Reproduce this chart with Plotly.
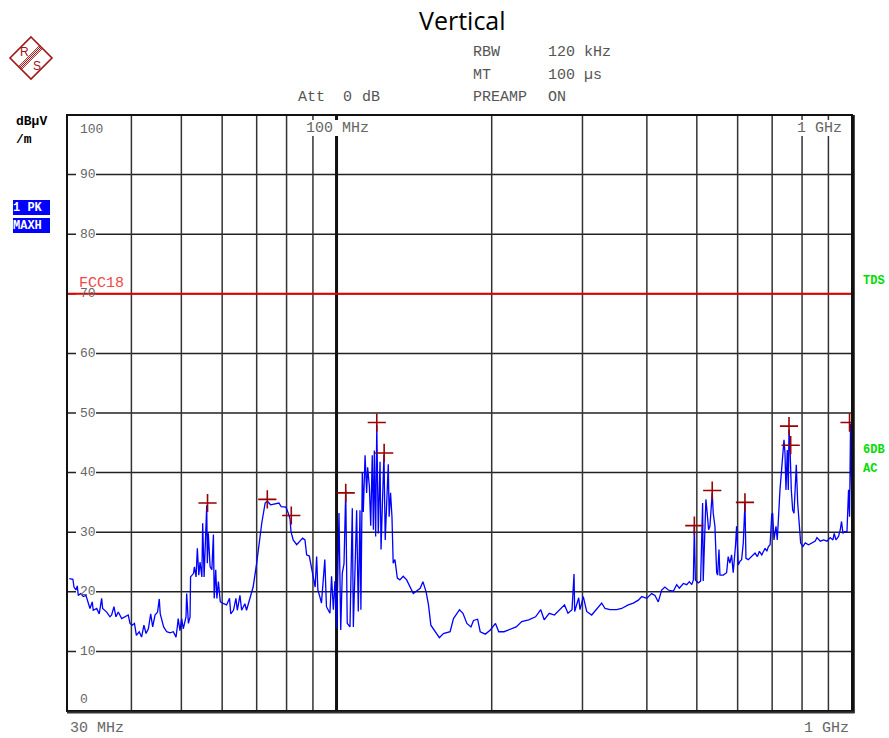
import math
import plotly.graph_objects as go

# ---------------- data ----------------
freq_mhz = [30.31, 30.8, 30.95, 31.23, 31.41, 31.55, 31.89, 32.26, 32.65, 32.99, 33.24, 33.58, 33.73,
            34.25, 34.65, 35.02, 35.18, 35.82, 36.35, 36.62, 37.0, 37.33, 37.72, 38.3, 38.87, 39.44,
            39.75, 40.13, 40.55, 40.9, 41.42, 41.86, 42.3, 42.7, 43.15, 43.6, 43.99, 44.45, 44.96,
            45.3, 45.5, 46.2, 46.84, 47.53, 48.24, 48.82, 49.1, 49.3, 49.69, 50.07, 50.43, 51.05,
            51.2, 51.6, 51.98, 52.1, 52.8, 53.0, 53.4, 53.7, 54.05, 54.35, 54.8, 55.0, 55.35, 56.0,
            56.15, 56.4, 56.85, 57.3, 57.7, 57.9, 58.3, 58.6, 59.0, 59.5, 60.4, 61.2, 62.0, 62.35,
            63.1, 63.8, 64.2, 64.96, 65.45, 66.4, 66.9, 67.9, 68.9, 70.0, 70.8, 71.6, 72.7, 73.4,
            74.5, 76.0, 77.3, 78.1, 79.8, 80.6, 81.25, 81.6, 82.4, 83.7, 84.7, 85.95, 86.85, 87.5,
            88.55, 89.5, 90.1, 90.9, 91.5, 92.0, 92.8, 93.5, 94.9, 95.6, 97.1, 97.8, 98.6, 99.3,
            100.1, 101.1, 101.9, 102.6, 103.4, 104.2, 104.9, 106.2, 107.3, 107.8, 108.6, 109.4,
            110.2, 111.05, 111.5, 112.2, 112.7, 113.6, 114.4, 114.9, 115.8, 116.5, 117.3, 117.9,
            118.4, 119.1, 119.7, 120.5, 121.45, 122.0, 122.7, 123.6, 124.3, 125.1, 126.0, 126.5,
            127.3, 128.1, 128.8, 129.8, 131.2, 132.7, 134.7, 136.8, 140.9, 145.3, 147.1, 149.2,
            150.8, 152.4, 156.5, 158.3, 161.2, 166.1, 168.6, 173.2, 175.9, 179.0, 182.3, 184.4,
            187.8, 190.0, 194.4, 198.8, 203.4, 206.4, 211.3, 216.2, 223.1, 228.7, 235.9, 243.3,
            249.0, 252.8, 258.6, 264.7, 270.8, 276.9, 281.2, 286.3, 288.9, 289.7, 295.0, 296.7,
            301.1, 305.7, 312.6, 319.7, 326.9, 331.8, 339.2, 349.5, 357.4, 368.1, 376.5, 385.1,
            391.0, 399.6, 408.6, 414.7, 420.9, 427.3, 433.6, 440.1, 450.1, 457.0, 462.4, 470.8,
            478.0, 483.6, 488.8, 492.3, 494.5, 496.7, 503.1, 508.5, 510.8, 513.1, 514.5, 516.8,
            520.7, 523.7, 527.0, 530.1, 533.2, 535.6, 538.0, 542.1, 546.3, 548.7, 552.0, 554.4,
            562.6, 571.1, 575.2, 579.6, 584.0, 588.2, 594.5, 597.2, 601.6, 606.2, 610.8, 615.3,
            619.9, 622.7, 629.2, 638.9, 648.5, 655.3, 661.2, 668.3, 678.3, 683.5, 688.4, 693.6,
            698.8, 701.6, 705.7, 712.1, 716.2, 724.9, 730.4, 733.7, 738.0, 741.3, 744.6, 749.0,
            752.3, 754.7, 758.1, 762.5, 767.3, 771.8, 775.2, 779.7, 784.6, 790.2, 795.1, 803.2,
            811.5, 823.6, 836.2, 848.7, 855.1, 867.9, 880.9, 894.2, 907.3, 918.3, 923.7, 930.7,
            941.6, 948.8, 954.4, 960.4, 967.3, 977.8, 984.7, 989.1, 993.6, 996.6, 1000.0]

level_dbuv = [22.2, 22.1, 20.8, 20.3, 21.0, 19.4, 19.7, 19.2, 19.4, 18.3, 17.2, 18.3, 16.9,
              17.2, 16.3, 18.9, 17.2, 16.6, 15.8, 16.1, 17.5, 15.8, 16.6, 15.5, 15.8, 16.1,
              14.7, 14.4, 14.7, 12.7, 13.3, 12.4, 14.4, 13.0, 13.8, 16.3, 14.1, 16.1, 16.6,
              18.8, 16.3, 14.1, 13.3, 13.1, 13.3, 12.4, 14.1, 15.5, 13.5, 15.5, 13.8, 15.8,
              19.7, 14.7, 15.8, 22.5, 23.1, 24.2, 22.5, 27.3, 22.8, 25.0, 22.5, 31.5, 22.5, 34.5,
              24.8, 29.8, 24.2, 23.7, 29.6, 18.9, 23.7, 18.9, 21.7, 18.3, 18.0, 17.8, 18.9, 16.3,
              16.9, 18.9, 16.9, 19.4, 16.9, 18.0, 16.9, 18.9, 20.8, 24.8, 28.1, 31.5, 34.9, 35.2,
              34.6, 34.8, 34.9, 34.3, 34.2, 33.2, 32.2, 30.1, 28.7, 27.9, 28.4, 29.0, 28.7, 26.2,
              26.0, 23.9, 22.0, 20.8, 25.9, 20.3, 19.2, 18.1, 25.4, 17.5, 16.4, 22.6, 17.0, 21.8,
              13.9, 33.2, 13.6, 23.1, 24.7, 37.0, 14.7, 14.1, 34.0, 14.1, 23.6, 33.7,
              16.7, 33.7, 17.0, 40.1, 33.4, 42.9, 36.6, 40.9, 37.7, 31.1, 42.9, 30.4,
              43.7, 29.3, 48.0, 29.8, 41.8, 27.1, 34.3, 43.0, 28.7, 35.4, 41.4, 32.6,
              36.6, 32.6, 24.8, 25.4, 22.3, 22.0, 22.6, 22.0, 19.7, 20.6, 21.7, 20.0,
              17.8, 14.4, 13.0, 12.3, 13.0, 13.3, 15.5, 17.0, 16.4, 14.7, 14.1, 15.2,
              15.4, 13.3, 12.9, 13.6, 14.7, 13.3, 13.3, 13.6, 14.1, 15.0, 15.3, 15.8,
              17.0, 15.3, 16.4, 16.1, 17.0, 17.8, 16.4, 17.0, 23.0, 16.7, 19.0, 17.0,
              19.2, 16.7, 16.1, 17.2, 18.1, 17.2, 17.0, 17.0, 17.2, 17.8, 18.1, 18.6,
              19.2, 18.9, 19.7, 19.4, 18.3, 20.3, 20.8, 20.3, 20.1, 21.2, 20.6, 21.4,
              21.2, 21.7, 21.2, 22.0, 31.0, 22.0, 21.5, 21.8, 28.7, 34.9, 21.8, 28.7,
              35.5, 33.2, 30.4, 31.0, 34.9, 36.6, 33.2, 31.0, 23.2, 22.8, 27.1, 22.8,
              22.8, 23.2, 25.9, 24.8, 26.2, 23.2, 27.9, 31.0, 24.5, 25.1, 25.4, 28.2,
              34.9, 25.6, 25.4, 25.9, 26.5, 25.9, 26.8, 26.2, 27.3, 26.8, 27.6, 27.9,
              33.0, 33.2, 28.7, 31.0, 28.7, 37.1, 40.2, 42.7, 45.5, 43.2, 37.1, 43.8,
              37.1, 47.2, 44.3, 37.1, 33.7, 33.2, 38.2, 41.3, 34.9, 30.4, 28.2, 27.6,
              28.2, 27.9, 28.2, 28.5, 29.1, 28.5, 28.7, 28.5, 29.1, 28.7, 29.8, 28.7,
              29.3, 30.4, 31.8, 29.8, 30.1, 30.1, 37.1, 32.6, 48.2, 39.3, 32.6]

peak_freq_mhz = [56.2, 73.4, 81.7, 104.2, 119.7, 123.7, 494.5, 535.6, 619.9, 754.7, 760.4, 989.1]
peak_level_dbuv = [34.9, 35.5, 32.8, 36.6, 48.4, 43.3, 31.1, 37.0, 35.0, 47.8, 44.6, 48.4]

limit_freq_mhz = [30, 1000]
limit_level_dbuv = [70, 70]
limit_name = "FCC18"

grid_freq_mhz = [40, 50, 60, 70, 80, 90, 100, 200, 300, 400, 500, 600, 700, 800, 900]
grid_level = [10, 20, 30, 40, 50, 60, 70, 80, 90]
y_tick_labels = ["10", "20", "30", "40", "50", "60", "70", "80", "90"]

# ---------------- layout helpers (pixel -> paper) ----------------
W, H = 889, 738
L, R, T, B = 67, 852, 115, 711


def px(x):
    return (x - L) / (R - L)


def py(y):
    return (B - y) / (B - T)


MONO = "Liberation Mono"
GRAY = "#666666"
HDR = "#555555"

fig = go.Figure()
fig.add_trace(go.Scatter(x=limit_freq_mhz, y=limit_level_dbuv, mode="lines",
                         line=dict(color="#E00000", width=2), hoverinfo="skip",
                         showlegend=False))
fig.add_trace(go.Scatter(x=freq_mhz, y=level_dbuv, mode="lines",
                         line=dict(color="#0000FF", width=1.3), showlegend=False))
fig.add_trace(go.Scatter(x=peak_freq_mhz, y=peak_level_dbuv, mode="markers",
                         marker=dict(symbol="cross-thin", size=13, color="#990000",
                                     line=dict(color="#990000", width=1.6)),
                         showlegend=False))

shapes = []
# horizontal grid
for lv in grid_level:
    shapes.append(dict(type="line", xref="paper", yref="y", x0=0, x1=1, y0=lv, y1=lv,
                       line=dict(color="#222222", width=1.5), layer="below"))
# vertical grid
for f in grid_freq_mhz:
    shapes.append(dict(type="line", xref="x", yref="paper", x0=f, x1=f, y0=0, y1=1,
                       line=dict(color="#111111" if f == 100 else "#333333",
                                 width=3 if f == 100 else 1.5), layer="below"))
# white backgrounds behind in-plot labels
for lv in grid_level:
    shapes.append(dict(type="rect", xref="paper", yref="y", x0=px(76), x1=px(96),
                       y0=lv - 1.2, y1=lv + 1.2, fillcolor="white", line=dict(width=0),
                       layer="below"))
shapes.append(dict(type="rect", xref="paper", yref="paper", x0=px(303), x1=px(375),
                   y0=py(136), y1=py(120), fillcolor="white", line=dict(width=0), layer="below"))
shapes.append(dict(type="rect", xref="paper", yref="paper", x0=px(794), x1=px(849),
                   y0=py(136), y1=py(120), fillcolor="white", line=dict(width=0), layer="below"))
# frame
shapes.append(dict(type="rect", xref="paper", yref="paper", x0=0, x1=1, y0=0, y1=1,
                   line=dict(color="#111111", width=2), layer="above"))
shapes.append(dict(type="line", xref="paper", yref="paper", x0=px(853.5), x1=px(853.5),
                   y0=py(713), y1=py(115), line=dict(color="#111111", width=2.5), layer="above"))
shapes.append(dict(type="line", xref="paper", yref="paper", x0=px(67), x1=px(854.5),
                   y0=py(712.5), y1=py(712.5), line=dict(color="#333333", width=2), layer="above"))

# R&S logo
logo_c = (31, 58)
hs = 21
pts = [(logo_c[0], logo_c[1] - hs), (logo_c[0] + hs, logo_c[1]),
       (logo_c[0], logo_c[1] + hs), (logo_c[0] - hs, logo_c[1])]
path = "M " + " L ".join(f"{px(a):.5f},{py(b):.5f}" for a, b in pts) + " Z"
shapes.append(dict(type="path", xref="paper", yref="paper", path=path,
                   line=dict(color="#A01515", width=1.6)))
for off in (-2.0, -0.7, 0.7, 2.0):
    d = off / math.sqrt(2)
    shapes.append(dict(type="line", xref="paper", yref="paper",
                       x0=px(19.5 + d), y0=py(68.5 + d), x1=px(41.5 + d), y1=py(46.5 + d),
                       line=dict(color="#A01515", width=1)))

ann = []


def text(x, y, s, size=14, color=GRAY, anchor="left", bold=False, family=MONO, yanchor="middle",
         **kw):
    if bold:
        s = "<b>" + s + "</b>"
    d = dict(x=px(x), y=py(y), xref="paper", yref="paper", text=s, showarrow=False,
             xanchor=anchor, yanchor=yanchor, font=dict(family=family, size=size, color=color))
    d.update(kw)
    ann.append(d)


# title
text(462, 20, "Vertical", size=25, color="black", anchor="center", family="Open Sans")
# header
text(296, 97, "Att", size=15, color=HDR)
text(341, 97, "0", size=15, color=HDR)
text(360, 97, "dB", size=15, color=HDR)
text(471, 53, "RBW", size=15, color=HDR)
text(546, 53, "120 kHz", size=15, color=HDR)
text(471, 75, "MT", size=15, color=HDR)
text(546, 75, "100 µs", size=15, color=HDR)
text(471, 97, "PREAMP", size=15, color=HDR)
text(546, 97, "ON", size=15, color=HDR)
# logo letters
text(24, 52, "R", size=12, color="#A01515", anchor="center", family="Liberation Sans")
text(37, 66, "S", size=12, color="#A01515", anchor="center", family="Liberation Sans")
# unit
text(14, 122, "dBµV", size=13, color="black", bold=True)
text(14, 140, "/m", size=13, color="black", bold=True)
# trace boxes
for yy, s in ((207, "1 PK"), (225, "MAXH")):
    ann.append(dict(x=px(13), y=py(yy), xref="paper", yref="paper", text="<b>" + s + "</b>",
                    showarrow=False, xanchor="left", yanchor="middle", bgcolor="#0000FF",
                    width=37, height=15, borderpad=0, borderwidth=0, align="left",
                    font=dict(family=MONO, size=12, color="white")))
# green side labels
text(861, 281, "TDS", size=12, color="#00DD00", bold=True)
text(861, 450, "6DB", size=12, color="#00DD00", bold=True)
text(861, 469, "AC", size=12, color="#00DD00", bold=True)
# y labels inside plot
for lv, lab in zip(grid_level, y_tick_labels):
    ann.append(dict(x=px(78), y=lv, xref="paper", yref="y", text=lab, showarrow=False,
                    xanchor="left", yanchor="middle",
                    font=dict(family=MONO, size=13, color=GRAY)))
text(78, 129, "100", size=13)
text(78, 699, "0", size=13)
# x labels
text(304, 128, "100 MHz", size=15)
text(795, 128, "1 GHz", size=15)
text(68, 728, "30 MHz", size=15)
text(851, 728, "1 GHz", size=15, anchor="right")
# limit name
text(77, 283, limit_name, size=15, color="#F04848")

fig.update_layout(
    width=W, height=H, margin=dict(l=L, r=W - R, t=T, b=H - B),
    paper_bgcolor="white", plot_bgcolor="white",
    xaxis=dict(type="log", range=[math.log10(30), math.log10(1000)], showgrid=False,
               zeroline=False, showticklabels=False, ticks="", showline=False),
    yaxis=dict(range=[0, 100], showgrid=False, zeroline=False, showticklabels=False,
               ticks="", showline=False),
    shapes=shapes, annotations=ann, showlegend=False,
)

fig.write_html("out.html", config={"displayModeBar": False},
               post_script="document.body.style.margin='0';")
